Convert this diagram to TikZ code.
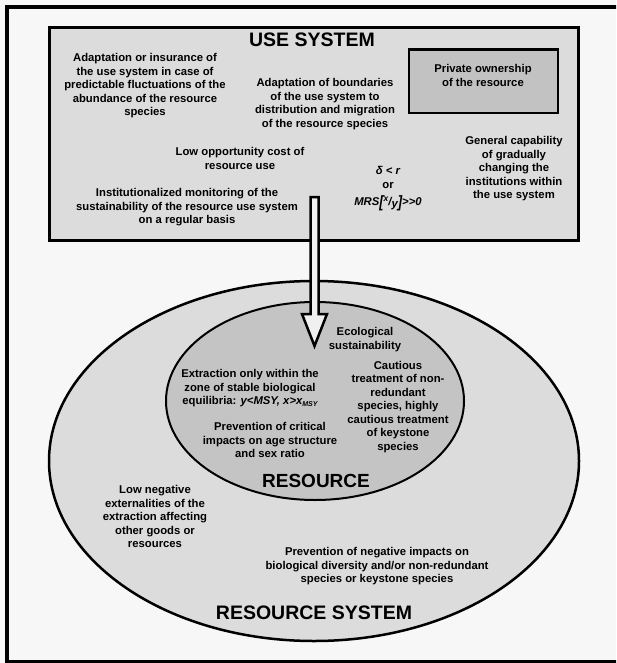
\documentclass[tikz,border=0pt]{standalone}
\usepackage{fontspec}
\setmainfont{Liberation Sans}
\usetikzlibrary{shapes.geometric}
\definecolor{bgc}{HTML}{F7F7F7}
\definecolor{boxc}{HTML}{DCDCDC}
\definecolor{privc}{HTML}{C2C2C2}
\definecolor{outc}{HTML}{DCDCDC}
\definecolor{inc}{HTML}{C4C4C4}
\definecolor{arrc}{HTML}{F0F0F0}
\begin{document}
\begin{tikzpicture}[x=1pt,y=-1pt,
  txt/.style={font=\bfseries\fontsize{11.3}{13.5}\selectfont, align=center, inner sep=0pt},
  ttl/.style={font=\bfseries\fontsize{19.5}{21}\selectfont, inner sep=0pt},
  ttlb/.style={font=\bfseries\fontsize{19}{21}\selectfont, inner sep=0pt}]
\useasboundingbox (0,0) rectangle (616,663);
\clip (0,0) rectangle (616,663);
\fill[bgc] (0,0) rectangle (616,663);
\draw[line width=4] (640,7) -- (7,7) -- (7,661.5) -- (640,661.5);
% use system box
\node[draw, line width=3, fill=boxc, minimum width=528.5, minimum height=212, inner sep=0] (usesys) at (313.75,134) {};
\node[ttl] (usettl) at (312,39.5) {USE SYSTEM};
\node[draw, line width=2.5, fill=privc, minimum width=149, minimum height=63.5, inner sep=0] (priv) at (483.5,81.25) {};
\node[txt] (privtxt) at (483,75.5) {Private ownership\\of the resource};
\node[txt] (adapt1) at (145,86) {Adaptation or insurance of\\the use system in case of\\predictable fluctuations of the\\abundance of the resource\\species};
\node[txt] (adapt2) at (325,104) {Adaptation of boundaries\\of the use system to\\distribution and migration\\of the resource species};
\node[txt] (lowopp) at (240,158.5) {Low opportunity cost of\\resource use};
\node[txt] (inst) at (187,207.5) {Institutionalized monitoring of the\\sustainability of the resource use system\\on a regular basis};
\node[txt] (general) at (514,169) {General capability\\of gradually\\changing the\\institutions within\\the use system};
\node[txt] (delta) at (388,170) {\itshape δ < r};
\node[txt] (or) at (388,186) {or};
\node[txt] (mrs) at (388,203) {\itshape MRS\raisebox{-1.5pt}{\scalebox{1.15}[1.45]{[}}\raisebox{4.5pt}{\fontsize{8.5}{8}\selectfont x}/\raisebox{-1.5pt}{y}\raisebox{-1.5pt}{\scalebox{1.15}[1.45]{]}}>\kern0pt>0};
% resource system
\node[draw, ellipse, line width=2.5, fill=outc, minimum width=530, minimum height=360, inner sep=0] (ressys) at (314,461) {};
\node[draw, ellipse, line width=2, fill=inc, minimum width=298, minimum height=198, inner sep=0] (res) at (315,401) {};
\node[txt] (eco) at (365,339.5) {Ecological\\sustainability};
\node[txt] (extr) at (250,388.5) {Extraction only within the\\zone of stable biological\\equilibria: \textit{y<MSY, x>x\raisebox{-1.5pt}{\fontsize{7}{7}\selectfont MSY}}};
\node[txt] (prevcrit) at (270,440) {Prevention of critical\\impacts on age structure\\and sex ratio};
\node[txt] (caut) at (398,407) {Cautious\\treatment of non-\\redundant\\species, highly\\cautious treatment\\of keystone\\species};
\node[ttlb] (resttl) at (316,481) {RESOURCE};
\node[txt] (lowneg) at (155,516.5) {Low negative\\externalities of the\\extraction affecting\\other goods or\\resources};
\node[txt] (prevneg) at (377,566.5) {Prevention of negative impacts on\\biological diversity and/or non-redundant\\species or keystone species};
\node[ttl] (rsttl) at (314,613) {RESOURCE SYSTEM};
% block arrow
\coordinate (arrtop) at (314.5,197);
\coordinate (arrtip) at (314.5,346);
\draw[line width=2.5, fill=arrc, line join=miter]
  (arrtop) ++(-4,0) -- ++(8,0) -- ++(0,117) -- ++(8.5,0) -- (arrtip) -- ++(-12.5,-32) -- ++(8.5,0) -- cycle;
\end{tikzpicture}
\end{document}
